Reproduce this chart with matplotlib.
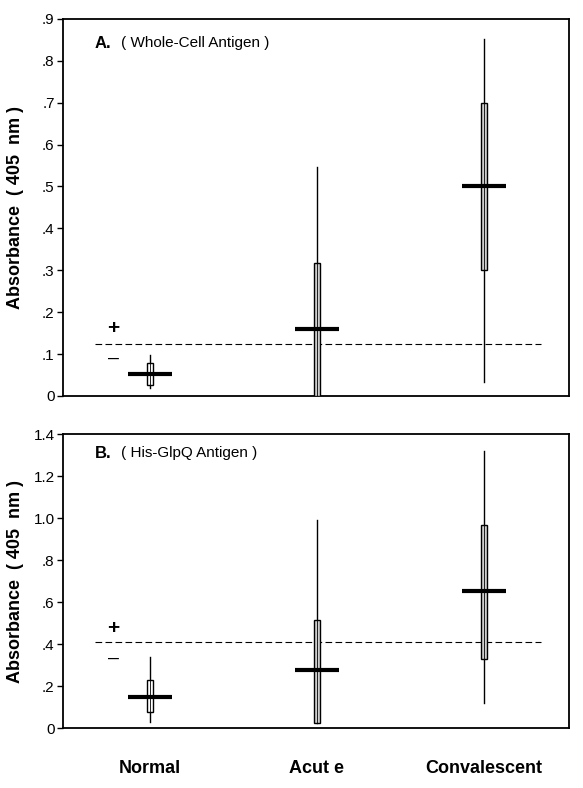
import numpy as np
import matplotlib
matplotlib.use("Agg")
import matplotlib.pyplot as plt
from matplotlib.patches import Rectangle

plt.rcParams['font.family'] = ['Liberation Sans', 'DejaVu Sans']

groups = ['Normal', 'Acut e', 'Convalescent']
xpos = [1, 2, 3]

# panel A - whole-cell antigen
a_wlo = [0.020, 0.0, 0.034]
a_q1 = [0.026, 0.0, 0.300]
a_med = [0.053, 0.159, 0.500]
a_q3 = [0.078, 0.317, 0.700]
a_whi = [0.098, 0.547, 0.852]
a_cut = 0.125
a_ticks = [0, .1, .2, .3, .4, .5, .6, .7, .8, .9]
a_labels = ['0', '.1', '.2', '.3', '.4', '.5', '.6', '.7', '.8', '.9']

# panel B - His-GlpQ antigen
b_wlo = [0.029, 0.024, 0.119]
b_q1 = [0.076, 0.024, 0.329]
b_med = [0.148, 0.276, 0.652]
b_q3 = [0.229, 0.514, 0.967]
b_whi = [0.338, 0.990, 1.319]
b_cut = 0.41
b_ticks = [0, .2, .4, .6, .8, 1.0, 1.2, 1.4]
b_labels = ['0', '.2', '.4', '.6', '.8', '1.0', '1.2', '1.4']

box_fill = ['white', '#cfcfcf', '#cfcfcf']

fig = plt.figure(figsize=(5.83, 7.88), dpi=100)
axA = fig.add_axes([0.108, 0.4975, 0.868, 0.4785])
axB = fig.add_axes([0.108, 0.076, 0.868, 0.373])


def draw_panel(ax, wlo, q1, med, q3, whi, cut, ymax, ticks, labels, title, plus, minus):
    bw = 0.036
    for i, x in enumerate(xpos):
        ax.plot([x, x], [wlo[i], whi[i]], color='black', lw=1.0, zorder=2)
        ax.add_patch(Rectangle((x - bw / 2, q1[i]), bw, q3[i] - q1[i],
                               facecolor=box_fill[i], edgecolor='black', lw=1.0, zorder=3))
        ax.plot([x, x], [q1[i], q3[i]], color='black', lw=0.6, zorder=4)
        ax.plot([x - 0.13, x + 0.13], [med[i], med[i]], color='black', lw=3.0,
                solid_capstyle='butt', zorder=5)
    ax.plot([0.67, 3.34], [cut, cut], color='black', lw=0.8, ls=(0, (6, 3)), zorder=1)
    ax.text(0.78, plus, '+', fontsize=15, fontweight='bold', ha='center', va='center')
    ax.text(0.78, minus, '\u2013', fontsize=14, ha='center', va='center')
    ax.text(0.67, ymax * 0.935, title[0], fontsize=12, fontweight='bold', va='center')
    ax.text(0.83, ymax * 0.935, title[1], fontsize=11, va='center')
    ax.set_xlim(0.48, 3.51)
    ax.set_ylim(0, ymax)
    ax.set_yticks(ticks)
    ax.set_yticklabels(labels, fontsize=11)
    ax.tick_params(axis='y', direction='out', length=4, width=1, pad=2)
    ax.set_ylabel('Absorbance  ( 405  nm )', fontsize=13, fontweight='bold')
    ax.yaxis.set_label_coords(-0.077, 0.5)
    for s in ax.spines.values():
        s.set_linewidth(1.3)


draw_panel(axA, a_wlo, a_q1, a_med, a_q3, a_whi, a_cut, 0.9, a_ticks, a_labels,
           ('A.', '( Whole-Cell Antigen )'), 0.162, 0.090)
draw_panel(axB, b_wlo, b_q1, b_med, b_q3, b_whi, b_cut, 1.4, b_ticks, b_labels,
           ('B.', '( His-GlpQ Antigen )'), 0.476, 0.333)

axA.set_xticks([])
axB.set_xticks(xpos)
axB.set_xticklabels(groups, fontsize=13, fontweight='bold')
axB.tick_params(axis='x', length=0, pad=23)

fig.savefig('out.png', dpi=100)
